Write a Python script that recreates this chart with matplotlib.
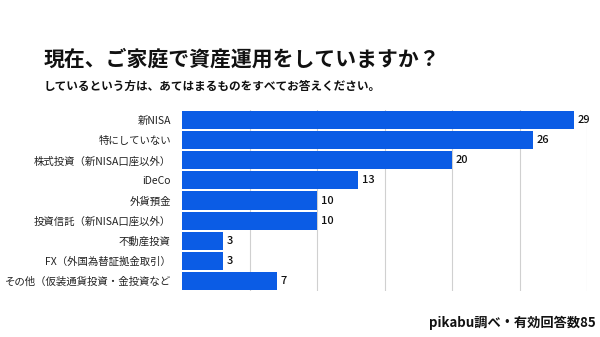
import matplotlib.pyplot as plt

plt.rcParams['font.family'] = ['Noto Sans CJK JP', 'DejaVu Sans']

# data
categories = ['新NISA', '特にしていない', '株式投資（新NISA口座以外）', 'iDeCo', '外貨預金',
              '投資信託（新NISA口座以外）', '不動産投資', 'FX（外国為替証拠金取引）',
              'その他（仮装通貨投資・金投資など']
values = [29, 26, 20, 13, 10, 10, 3, 3, 7]

title = '現在、ご家庭で資産運用をしていますか？'
subtitle = 'しているという方は、あてはまるものをすべてお答えください。'
source = 'pikabu調べ・有効回答数85'

fig = plt.figure(figsize=(6, 3.37), dpi=100)
ax = fig.add_axes([182 / 600, 46 / 337, 405 / 600, 181 / 337])

y = range(len(categories))
ax.barh(y, values, height=0.9, color='#0B5CE5', zorder=3)
for i, v in enumerate(values):
    ax.text(v + 0.3, i, str(v), va='center', ha='left', fontsize=8,
            fontweight='medium', color='#111111')

ax.set_xlim(0, 30)
ax.set_ylim(len(categories) - 0.5, -0.5)
ax.set_xticks([5, 10, 15, 20, 25, 30])
ax.set_xticklabels([])
ax.set_yticks(list(y))
ax.set_yticklabels(categories, fontsize=7.5, color='#222222')
ax.tick_params(axis='both', length=0, pad=8)
ax.grid(axis='x', color='#d0d0d0', linewidth=0.8, zorder=0)
for s in ax.spines.values():
    s.set_visible(False)

fig.text(44 / 600, 1 - 59 / 337, title, fontsize=15, fontweight='bold',
         va='center', ha='left', color='#111111')
fig.text(44 / 600, 1 - 86 / 337, subtitle, fontsize=8.4, fontweight='bold',
         va='center', ha='left', color='#111111')
fig.text(596 / 600, 1 - 323 / 337, source, fontsize=9.5, fontweight='bold',
         va='center', ha='right', color='#111111')

fig.savefig('out.png', dpi=100, facecolor='white')
